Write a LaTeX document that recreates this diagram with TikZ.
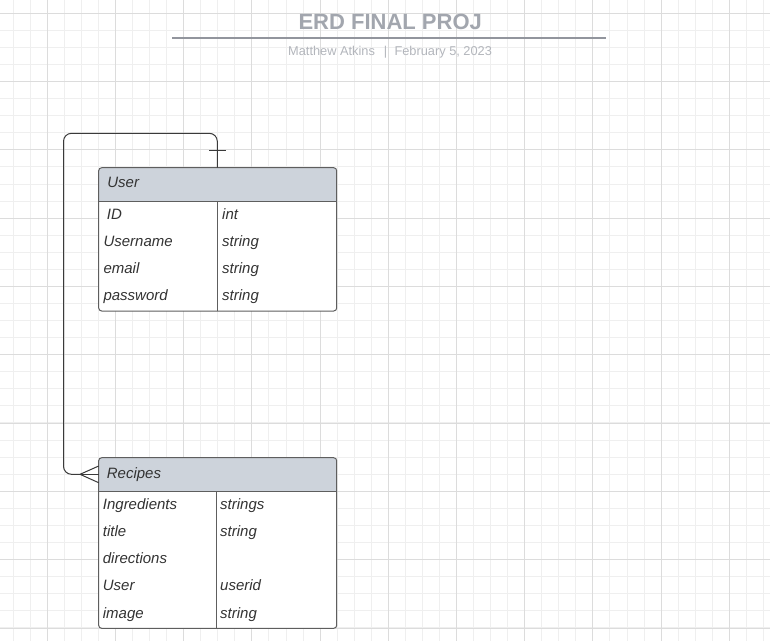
\documentclass[tikz,border=0pt]{standalone}
\usepackage{fontspec}
\setmainfont{Liberation Sans}
\definecolor{minorgrid}{HTML}{EFEFEF}
\definecolor{majorgrid}{HTML}{DCDCDC}
\definecolor{hdr}{HTML}{CDD3DB}
\definecolor{bord}{HTML}{5E5E5E}
\definecolor{txt}{HTML}{333333}
\definecolor{ttl}{HTML}{A2A6AE}
\definecolor{subt}{HTML}{B3B6BC}
\definecolor{conn}{HTML}{3A3A3A}
\tikzset{
  cell/.style={anchor=base west,inner sep=0pt,text=txt,font=\fontsize{15}{18}\selectfont\itshape},
  tbl/.style={draw=bord,line width=1pt,rounded corners=3pt},
  hdrbox/.style={fill=hdr,draw=bord,line width=1pt},
  connline/.style={draw=conn,line width=1pt},
}
\begin{document}
\begin{tikzpicture}[x=1pt,y=-1pt]
\useasboundingbox (0,0) rectangle (770,641);
\fill[white] (0,0) rectangle (770,641);
% grid
\foreach \i in {0,...,44} \draw[minorgrid,line width=1pt] ({13.2+17.05*\i},0) -- ++(0,641);
\foreach \j in {0,...,36} \draw[minorgrid,line width=1pt] (0,{13.3+17.07*\j}) -- ++(770,0);
\foreach \i in {0,...,10} \draw[majorgrid,line width=1pt] ({47.3+68.2*\i},0) -- ++(0,641);
\foreach \j in {0,...,9} \draw[majorgrid,line width=1pt] (0,{13.3+68.3*\j}) -- ++(770,0);
% title
\node[anchor=base,inner sep=0pt,text=ttl,font=\fontsize{22}{26}\selectfont\bfseries] (title) at (390.2,29.3) {ERD FINAL PROJ};
\draw[ttl!90!black,line width=2pt] (172,37.7) -- (606,37.7);
\node[anchor=base west,inner sep=0pt,text=subt,font=\fontsize{12.8}{15}\selectfont] (author) at (288,55) {Matthew Atkins};
\node[anchor=base,inner sep=0pt,text=subt,font=\fontsize{12.8}{15}\selectfont] (sep) at (385.5,55) {|};
\node[anchor=base west,inner sep=0pt,text=subt,font=\fontsize{12.8}{15}\selectfont] (date) at (394.3,55) {February 5, 2023};
% User table
\begin{scope}
\clip[rounded corners=3pt] (98.7,167.7) rectangle (336.7,311);
\fill[white] (98.7,167.7) rectangle (336.7,311);
\fill[hdr] (98.7,167.7) rectangle (336.7,201.7);
\end{scope}
\draw[bord,line width=1pt] (98.7,201.7) -- (336.7,201.7);
\draw[bord,line width=1pt] (217.3,201.7) -- (217.3,311);
\draw[tbl] (98.7,167.7) rectangle (336.7,311);
\coordinate (usertop) at (217.3,167.7);
\node[cell] (userh) at (107.2,187.7) {User};
\node[cell] (u1) at (106.7,219.6) {ID};
\node[cell] (u2) at (103.3,246.5) {Username};
\node[cell] (u3) at (103.3,273.4) {email};
\node[cell] (u4) at (103.3,300.4) {password};
\node[cell] (u1t) at (222,219.6) {int};
\node[cell] (u2t) at (222,246.5) {string};
\node[cell] (u3t) at (222,273.4) {string};
\node[cell] (u4t) at (222,300.4) {string};
% Recipes table
\begin{scope}
\clip[rounded corners=3pt] (98.7,457.7) rectangle (336.7,628.3);
\fill[white] (98.7,457.7) rectangle (336.7,628.3);
\fill[hdr] (98.7,457.7) rectangle (336.7,491.7);
\end{scope}
\draw[bord,line width=1pt] (98.7,491.7) -- (336.7,491.7);
\draw[bord,line width=1pt] (216,491.7) -- (216,628.3);
\draw[tbl] (98.7,457.7) rectangle (336.7,628.3);
\coordinate (recleft) at (98.7,474.3);
\node[cell] (rech) at (106.7,478.7) {Recipes};
\node[cell] (r1) at (102.7,509.4) {Ingredients};
\node[cell] (r2) at (102.7,536.5) {title};
\node[cell] (r3) at (102.7,563.3) {directions};
\node[cell] (r4) at (102.7,590.5) {User};
\node[cell] (r5) at (102.7,618.2) {image};
\node[cell] (r1t) at (220,509.4) {strings};
\node[cell] (r2t) at (220,536.5) {string};
\node[cell] (r4t) at (220,590.5) {userid};
\node[cell] (r5t) at (220,618.2) {string};
% connector
\coordinate (crow) at (80,474.3);
\draw[connline,rounded corners=8pt] (usertop) -- (217.3,133.3) -- (63.5,133.3) -- (63.5,474.3) -- (crow);
\draw[connline] (crow) -- (recleft);
\draw[connline] (crow) -- (98.7,466);
\draw[connline] (crow) -- (98.7,482.7);
\draw[connline] (209.3,150) -- (225.7,150);
\end{tikzpicture}
\end{document}
